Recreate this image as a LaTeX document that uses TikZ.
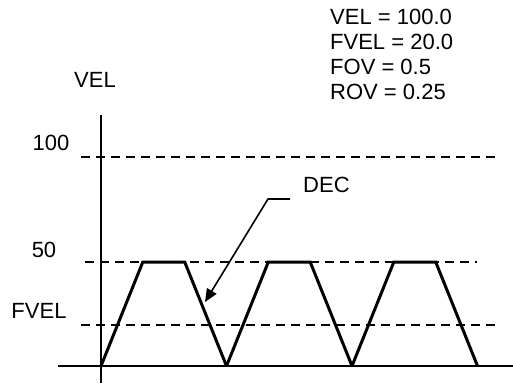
\documentclass[tikz,border=0pt]{standalone}
\usepackage{fontspec}
\setmainfont{Liberation Sans}
\usetikzlibrary{arrows.meta}

\begin{document}
\begin{tikzpicture}[x=1pt,y=-1pt,
                lbl/.style={font=\fontsize{22}{25}\selectfont,inner sep=0pt},
                ax/.style={black,line width=2.8pt},
                lvl/.style={black,line width=2pt,dash pattern=on 9pt off 6pt},
                wave/.style={black,line width=3pt,line join=miter},
                lead/.style={black,line width=1.6pt}
            ]
                \useasboundingbox (0,0) rectangle (513,387);
                % Axes
                \coordinate (ytop) at (101,115);
                \coordinate (ybot) at (101,383);
                \coordinate (xl) at (58,366);
                \coordinate (xr) at (513,366);
                \draw[ax] (ytop)--(ybot);
                \draw[ax] (xl)--(xr);
                % Dashed levels
                \coordinate (h100a) at (81,157);  \coordinate (h100b) at (500,157);
                \coordinate (h50a)  at (85,262);  \coordinate (h50b)  at (477,262);
                \coordinate (hfa)   at (81,325);  \coordinate (hfb)   at (498,325);
                \draw[lvl] (h100a)--(h100b);
                \draw[lvl] (h50a)--(h50b);
                \draw[lvl] (hfa)--(hfb);
                % Velocity profile: three trapezoids
                \foreach \k in {0,1,2} {
                    \pgfmathsetmacro{\xo}{101+125.5*\k}
                    \coordinate (w\k0) at (\xo,366);
                    \coordinate (w\k1) at (\xo+41.8,262);
                    \coordinate (w\k2) at (\xo+83.7,262);
                    \coordinate (w\k3) at (\xo+125.5,366);
                }
                \foreach \k in {0,1,2} { \draw[wave] (w\k0)--(w\k1)--(w\k2)--(w\k3); }
                % Axis labels
                \node[lbl] (vel)  at (95,80)  {VEL};
                \node[lbl] (v100) at (51,143) {100};
                \node[lbl] (v50)  at (44,250) {50};
                \node[lbl] (vf)   at (39,311) {FVEL};
                % Parameters
                \foreach \t [count=\i] in {VEL = 100.0, FVEL = 20.0, FOV = 0.5, ROV = 0.25} {
                    \node[lbl,anchor=west] (par\i) at (330,{25*\i-8.5}) {\t};
                }
                % DEC callout
                \node[lbl,anchor=west] (dec) at (303,185) {DEC};
                \coordinate (decend)  at (290,199);
                \coordinate (deckink) at (268,199);
                \coordinate (dectip)  at (205,302);
                \draw[lead,-{Triangle[length=13pt,width=11pt]}] (decend)--(deckink)--(dectip);
            \end{tikzpicture}
\end{document}
